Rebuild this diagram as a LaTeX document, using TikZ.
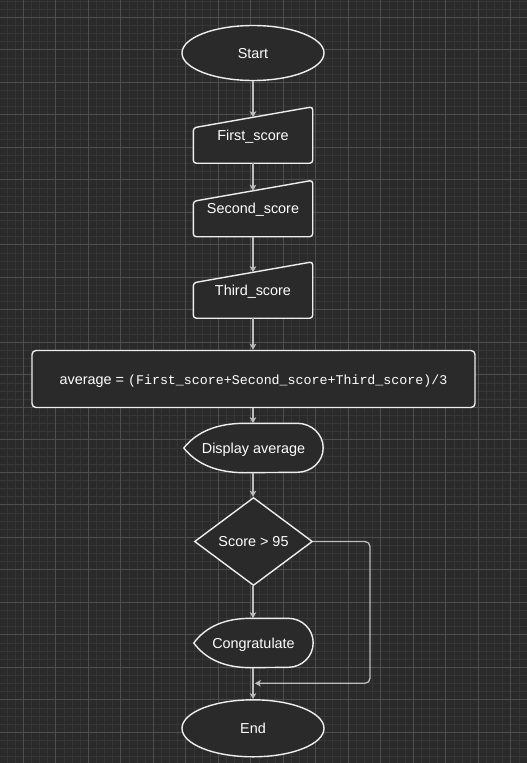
\documentclass[tikz,border=0pt]{standalone}
\usepackage{fontspec}
\setmainfont{Liberation Sans}
\newfontfamily\codefont{Liberation Mono}
\usetikzlibrary{shapes.geometric,arrows.meta,calc}
\definecolor{bgcol}{HTML}{2A2A2A}
\definecolor{minorcol}{HTML}{363636}
\definecolor{majorcol}{HTML}{4E4E4E}
\definecolor{fillcol}{HTML}{2A2A2A}
\definecolor{bordercol}{HTML}{EEEEEE}
\definecolor{conncol}{HTML}{BDBDBD}
\pgfdeclarelayer{gridlayer}
\pgfdeclarelayer{shapelayer}
\pgfsetlayers{gridlayer,shapelayer,main}
\tikzset{
  lbl/.style={font=\fontsize{14.4}{16}\selectfont, text=white, text height=10.3pt, text depth=0pt, inner sep=0pt},
  term/.style={lbl, ellipse, draw=bordercol, fill=fillcol, line width=1.4pt, minimum width=142pt, minimum height=55pt},
  inbox/.style={lbl, rectangle, minimum width=119pt, minimum height=56pt},
  procbox/.style={lbl, rectangle, rounded corners=4pt, draw=bordercol, fill=fillcol, line width=1.4pt, minimum width=443pt, minimum height=57pt},
  decision/.style={lbl, diamond, draw=bordercol, fill=fillcol, line width=1.4pt, minimum width=118pt, minimum height=88pt},
  shapeline/.style={draw=bordercol, fill=fillcol, line width=1.4pt, rounded corners=3pt},
  dispshape/.style={draw=bordercol, fill=fillcol, line width=1.4pt},
  conn/.style={draw=conncol, line width=1.3pt, -{Stealth[length=6pt,width=6.5pt,inset=1.5pt]}},
  minorgrid/.style={draw=minorcol, line width=0.8pt},
  majorgrid/.style={draw=majorcol, line width=0.9pt},
}
\begin{document}
\begin{tikzpicture}[x=1pt,y=-1pt]
\useasboundingbox (0,0) rectangle (527,763);
\begin{pgfonlayer}{gridlayer}
  \fill[bgcol] (0,0) rectangle (527,763);
  \foreach \k in {0,...,64} \draw[minorgrid] ({7.05+\k*8.125},0) -- ++(0,763);
  \foreach \k in {0,...,93} \draw[minorgrid] (0,{1.05+\k*8.125}) -- ++(527,0);
  \foreach \k in {0,...,15} \draw[majorgrid] ({23.3+\k*32.5},0) -- ++(0,763);
  \foreach \k in {0,...,23} \draw[majorgrid] (0,{17.3+\k*32.5}) -- ++(527,0);
\end{pgfonlayer}

% nodes
\node[term] (start) at (253,53) {Start};
\node[inbox] (in1) at (253,135) {First\_score};
\node[inbox] (in2) at (253,208.5) {Second\_score};
\node[inbox] (in3) at (253,290) {Third\_score};
\node[procbox] (proc) at (253.5,379) {average = {\codefont\fontsize{13.3}{16}\selectfont (First\_score+Second\_score+Third\_score)/3}};
\node[lbl, minimum width=139pt, minimum height=49pt] (disp) at (253.5,448) {Display average};
\node[decision] (dec) at (253.5,541.5) {Score > 95};
\node[lbl, minimum width=119pt, minimum height=49pt] (cong) at (253.5,643) {Congratulate};
\node[term, minimum height=57pt] (end) at (253,728.3) {End};

% node outlines
\begin{pgfonlayer}{shapelayer}
  \foreach \n in {in1,in2,in3}
    \draw[shapeline] (\n.south west) -- ($(\n.north west)+(0,21)$) -- (\n.north east) -- (\n.south east) -- cycle;
  % display shapes
  \draw[dispshape] (disp.west) .. controls ($(disp.west)+(13,-16.3)$) and ($(disp.north west)+(33.3,0)$) .. ($(disp.north west)+(61,0)$)
     -- ($(disp.north east)+(-26,0)$) arc[start angle=-90,end angle=90,x radius=26,y radius=24.5]
     -- ($(disp.south west)+(61,0)$) .. controls ($(disp.south west)+(33.3,0)$) and ($(disp.west)+(13,16.3)$) .. (disp.west) -- cycle;
  \draw[dispshape] (cong.west) .. controls ($(cong.west)+(12,-16.3)$) and ($(cong.north west)+(31,0)$) .. ($(cong.north west)+(57,0)$)
     -- ($(cong.north east)+(-25,0)$) arc[start angle=-90,end angle=90,x radius=25,y radius=24.5]
     -- ($(cong.south west)+(57,0)$) .. controls ($(cong.south west)+(31,0)$) and ($(cong.west)+(12,16.3)$) .. (cong.west) -- cycle;
\end{pgfonlayer}

% connectors
\coordinate (in1top) at ($(in1.north)+(0,10.5)$);
\coordinate (in2top) at ($(in2.north)+(0,10.5)$);
\coordinate (in3top) at ($(in3.north)+(0,10.5)$);
\coordinate (merge) at (254.8,683.3);
\coordinate (bend1) at (370,541.5);
\coordinate (bend2) at (370,683.3);
\draw[conn] (start.south) -- (in1top);
\draw[conn] (in1.south) -- (in2top);
\draw[conn] (in2.south) -- (in3top);
\draw[conn] (in3.south) -- (proc.north -| in3.south);
\draw[conn] (proc.south -| in3.south) -- (disp.north -| in3.south);
\draw[conn] (disp.south -| in3.south) -- (dec.north -| in3.south);
\draw[conn] (dec.south -| in3.south) -- (cong.north -| in3.south);
\draw[conn] (cong.south -| in3.south) -- (end.north);
\draw[conn, rounded corners=5pt] (dec.east) -- (bend1) -- (bend2) -- (merge);
\end{tikzpicture}
\end{document}
